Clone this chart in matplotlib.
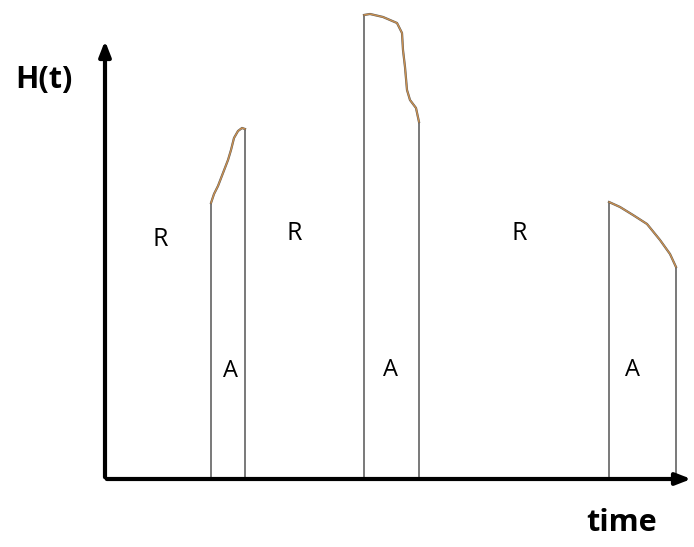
import matplotlib
matplotlib.use("Agg")
import matplotlib.pyplot as plt

# pulse edges (time, pixel units from left) and the orange top curve of each
pulse_left = [211, 364, 609]
pulse_right = [245, 419, 676]
curve_t = [
    [211, 214, 218, 223, 228, 231, 234, 238, 242, 245],
    [364, 370, 383, 397, 402, 403, 405, 407, 410, 416, 419],
    [609, 620, 633, 647, 660, 670, 676],
]
curve_h = [
    [203, 194, 186, 173, 160, 150, 138, 131, 128, 129],
    [15, 14, 17, 23, 33, 50, 67, 90, 100, 108, 122],
    [202, 207, 215, 224, 240, 254, 267],
]
r_labels = [(160, 240), (294, 234), (519, 234)]
a_labels = [(231, 371), (391, 370), (633, 370)]

fig = plt.figure(figsize=(6.94, 5.47), dpi=100)
ax = fig.add_axes([0, 0, 1, 1])
ax.set_xlim(0, 694)
ax.set_ylim(547, 0)
ax.axis("off")

x0, y0 = 105, 479
# axes with arrows
ax.annotate("", xy=(x0, 38), xytext=(x0, y0 + 1),
            arrowprops=dict(arrowstyle="-|>,head_length=0.9,head_width=0.35",
                            color="black", lw=3))
ax.annotate("", xy=(694, y0), xytext=(x0 - 1, y0),
            arrowprops=dict(arrowstyle="-|>,head_length=0.9,head_width=0.35",
                            color="black", lw=3))

for l, r, ts, hs in zip(pulse_left, pulse_right, curve_t, curve_h):
    ax.plot([l, l], [y0, hs[0]], color="#555555", lw=1.1)
    ax.plot([r, r], [y0, hs[-1]], color="#555555", lw=1.1)
    ax.plot(ts, hs, color="#555555", lw=1.6)
    ax.plot(ts, hs, color="#e8a050", lw=1.0, alpha=0.8)

for x, y in r_labels:
    ax.text(x, y, "R", fontsize=18, ha="center", va="center", family="Open Sans")
for x, y in a_labels:
    ax.text(x, y, "A", fontsize=17, ha="center", va="center", family="Open Sans")

ax.text(44, 80, "H(t)", fontsize=22, fontweight="bold", ha="center", va="center",
        family="Open Sans")
ax.text(622, 523, "time", fontsize=22, fontweight="bold", ha="center", va="center",
        family="Open Sans")

fig.savefig("out.png", dpi=100)
